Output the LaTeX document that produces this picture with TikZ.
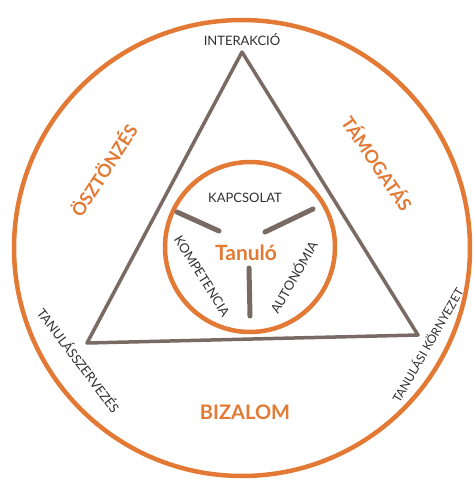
\documentclass[tikz,border=0pt]{standalone}
\usepackage{fontspec}
\setmainfont{Lato}
\usepackage{xcolor}
\usetikzlibrary{positioning, calc}
\definecolor{edOrange}{RGB}{226,121,52}
\definecolor{edBrown}{RGB}{122,106,100}
\definecolor{edText}{RGB}{50,47,47}
\tikzset{
    ringLine/.style={draw=edOrange, line width=4.5pt},
    triLine/.style={draw=edBrown, line width=3.5pt, line join=round},
    spokeLine/.style={draw=edBrown, line width=5pt, line cap=round},
    bigLabel/.style={text=edOrange, font=\fontsize{18}{21}\selectfont\bfseries, inner sep=0pt},
    smallLabel/.style={text=edText, font=\fontsize{13}{15}\selectfont, inner sep=0pt}
}

\begin{document}
\begin{tikzpicture}[x=1pt, y=-1pt]
    \useasboundingbox (0,0) rectangle (473,480);
    % --- outer ring ---
    \coordinate (outerC) at (242,248);
    \draw[ringLine] (outerC) circle[radius=228];
    % --- triangle ---
    \coordinate (triTop) at (242,52);
    \coordinate (triLeft) at (87,343);
    \coordinate (triRight) at (418,335);
    \draw[triLine] (triTop) -- (triLeft) -- (triRight) -- cycle;
    % --- inner circle and spokes ---
    \coordinate (innerC) at (250,247);
    \draw[ringLine] (innerC) circle[radius=85];
    \coordinate (spokeLa) at (177,212); \coordinate (spokeLb) at (219,231);
    \coordinate (spokeRa) at (265,232); \coordinate (spokeRb) at (313,209);
    \coordinate (spokeBa) at (249,268); \coordinate (spokeBb) at (250,316);
    \draw[spokeLine] (spokeLa) -- (spokeLb);
    \draw[spokeLine] (spokeRa) -- (spokeRb);
    \draw[spokeLine] (spokeBa) -- (spokeBb);
    % --- labels ---
    \node[bigLabel, font=\fontsize{21}{24}\selectfont\bfseries] (tanulo) at (246,253) {Tanuló};
    \node[smallLabel] (kapcsolat) at (245,198) {KAPCSOLAT};
    \node[smallLabel, rotate=-58] (kompetencia) at (202,276) {KOMPETENCIA};
    \node[smallLabel, rotate=60] (autonomia) at (293,277) {AUTONÓMIA};
    \node[smallLabel] (interakcio) at (242,40) {INTERAKCIÓ};
    \node[smallLabel, rotate=-53] (szervezes) at (79,360) {TANULÁSSZERVEZÉS};
    \node[smallLabel, font=\fontsize{12}{14}\selectfont, rotate=60] (kornyezet) at (427,345) {TANULÁSI KÖRNYEZET};
    \node[bigLabel, rotate=57] (osztonzes) at (103,170) {ÖSZTÖNZÉS};
    \node[bigLabel, rotate=-56] (tamogatas) at (378,163) {TÁMOGATÁS};
    \node[bigLabel, font=\fontsize{20}{23}\selectfont\bfseries] (bizalom) at (245,412) {BIZALOM};
\end{tikzpicture}
\end{document}
